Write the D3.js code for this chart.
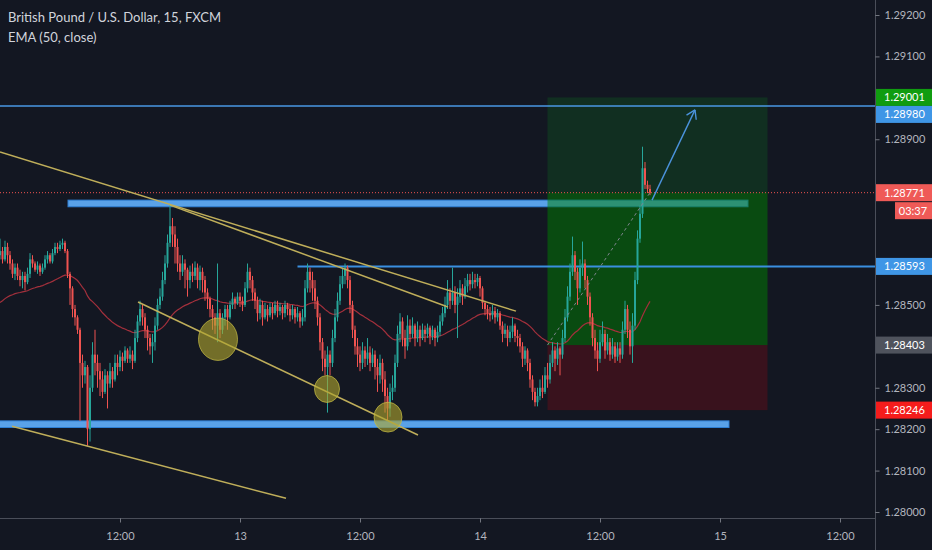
<!DOCTYPE html>
<html><head><meta charset="utf-8">
<script src="https://cdn.jsdelivr.net/npm/d3@7"></script>
<style>
html,body{margin:0;padding:0;background:#131722;}
svg{display:block;}
</style></head><body>
<svg id="c" width="932" height="550"></svg>
<script>
// ---- DATA (prices in points of 0.00001 above BASE) ----
const BASE = 1.28, UNIT = 0.00001;
const firstOpen = 620;
const closes = [630,610,640,620,600,575,590,570,560,570,
555,575,610,600,585,595,580,590,610,620,
605,625,640,635,645,650,630,575,540,490,
470,440,360,330,350,200,300,380,360,340,
320,290,330,310,340,320,360,350,375,365,
390,370,380,365,420,460,490,470,440,420,
400,410,450,500,520,560,600,650,690,670,
640,600,580,600,585,560,580,570,590,560,
580,560,530,515,490,470,450,480,440,470,
490,470,500,515,505,520,510,500,540,580,
560,530,510,480,500,470,490,475,495,480,
500,485,495,480,500,490,475,490,470,480,
460,470,540,580,560,540,510,470,410,370,
350,380,360,420,470,510,550,570,590,560,
500,440,400,380,360,390,370,385,360,380,
350,330,360,320,280,250,290,300,360,430,
460,420,400,450,430,450,420,440,420,440,
430,445,425,440,420,435,460,480,500,530,
510,530,500,520,540,520,545,560,550,560,
555,565,540,505,490,480,475,485,470,480,
450,430,440,420,435,450,425,420,400,370,
390,360,320,290,265,280,300,290,330,320,
360,390,370,395,380,420,470,520,580,620,
580,540,590,600,560,520,470,420,390,370,
410,430,390,410,380,400,375,395,380,440,
490,440,400,450,560,660,720,830,790,780,
771];
const highs = [660,640,655,650,630,610,600,600,585,580,
580,590,625,620,605,605,600,600,620,630,
625,635,650,650,655,660,655,635,580,545,
500,475,445,380,365,355,330,410,440,380,
360,340,345,340,360,350,380,380,390,385,
400,395,400,390,440,475,510,500,480,450,
430,430,470,515,540,580,620,670,740,710,
690,660,620,620,610,590,595,600,605,600,
595,590,570,540,520,500,480,600,490,480,
500,500,510,530,520,530,530,520,555,600,
590,570,540,520,515,510,505,500,505,505,
510,510,505,500,510,505,500,500,495,495,
485,490,560,600,590,580,560,520,480,420,
390,400,390,440,490,530,570,590,600,595,
570,510,450,420,400,410,400,420,400,395,
390,370,380,370,340,300,310,330,380,450,
480,470,440,475,465,470,455,460,450,455,
450,455,450,450,445,450,475,495,520,560,
540,590,545,540,560,550,565,575,575,580,
575,575,570,545,510,500,495,500,495,490,
485,460,455,450,450,470,455,440,430,410,
400,395,370,330,300,300,320,330,350,360,
380,410,400,410,400,440,490,545,600,665,
630,590,610,653,610,570,530,480,440,410,
440,460,440,430,420,420,410,410,410,460,
510,500,460,480,580,680,740,882,845,800,
790];
const lows = [610,600,605,600,585,565,560,560,545,540,
535,550,565,590,580,575,570,575,585,600,
600,600,620,625,630,635,625,565,500,470,
450,430,220,300,310,160,170,290,330,300,
280,275,285,250,300,300,315,330,340,340,
360,360,360,345,360,410,450,450,420,390,
380,360,390,440,490,510,550,590,640,640,
600,580,560,570,540,520,540,555,560,540,
535,530,510,490,470,440,430,410,420,430,
450,440,465,490,490,500,495,485,495,530,
540,510,490,460,465,450,465,460,470,465,
475,470,475,465,470,475,460,465,455,460,
445,450,460,530,530,510,490,450,390,340,
330,240,330,350,410,460,500,540,550,540,
480,420,380,350,340,345,350,355,340,350,
320,290,310,290,240,220,230,270,290,350,
410,400,370,390,410,420,400,410,400,415,
410,420,405,415,400,410,425,450,470,490,
490,500,480,420,505,500,515,530,535,540,
540,545,520,490,475,465,460,465,455,460,
440,410,420,400,410,420,410,400,385,350,
355,340,300,270,255,255,270,275,285,300,
310,350,340,355,330,370,410,460,510,570,
560,500,530,570,540,500,450,400,370,340,
360,400,370,380,365,370,360,365,360,370,
430,420,380,360,440,550,650,710,780,770,
765];
const barStart = Date.UTC(2019, 1, 12, 0, 0);
const barMinutes = 15;
const emaSeed = 1.28501;
const emaPeriod = 50;

const priceTicks = [1.292,1.291,1.290,1.289,1.288,1.287,1.286,1.285,1.284,1.283,1.282,1.281,1.280];
const timeTicks = [Date.UTC(2019,1,12,12), Date.UTC(2019,1,13), Date.UTC(2019,1,13,12), Date.UTC(2019,1,14), Date.UTC(2019,1,14,12), Date.UTC(2019,1,15), Date.UTC(2019,1,15,12)];

const currentPrice = 1.28771;
const countdown = "03:37";
const hLinePrice = 1.28980;
const hRayPrice = 1.28593, hRayStartBar = 119;
const posStartBar = 219, posEndBar = 307;
const posEntry = 1.28403, posTarget = 1.29001, posStop = 1.28246;
const zoneRects = [ {from: 27.2, to: 299.2, hi: 1.28753, lo: 1.28737},
                    {from: -4, to: 291.6, hi: 1.28220, lo: 1.28204} ];
const trendLines = [ [[0, 1.28869], [206.4, 1.28485]],
                     [[68, 1.28741], [179.2, 1.28495]],
                     [[55.2, 1.28507], [167.2, 1.28186]],
                     [[4.8, 1.28207], [114.4, 1.28033]] ];
const circles = [ {bar: 87.2, price: 1.28417, rb: 7.8, rp: 0.00051},
                  {bar: 130.8, price: 1.28297, rb: 5.0, rp: 0.000325},
                  {bar: 155.2, price: 1.28229, rb: 5.6, rp: 0.00036} ];
const arrowPts = [[260.8, 1.28753], [278, 1.28971]];
const axisTags = [
  {price: 1.29001, text: "1.29001", color: "#109c10"},
  {price: 1.28980, text: "1.28980", color: "#3f96e6"},
  {price: 1.28771, text: "1.28771", color: "#ef5a57"},
  {price: 1.28593, text: "1.28593", color: "#3f96e6"},
  {price: 1.28403, text: "1.28403", color: "#4f535d"},
  {price: 1.28246, text: "1.28246", color: "#f51c1c"}
];
const titleText = "British Pound / U.S. Dollar, 15, FXCM";
const studyText = "EMA (50, close)";

// ---- CHART ----
const W = 932, H = 550, plotR = 875, plotB = 518;
const FONT = "Lato, 'Open Sans', sans-serif";
const svg = d3.select("#c");
svg.append("rect").attr("width", W).attr("height", H).attr("fill", "#131722");

const x = d3.scaleUtc().domain([new Date(barStart), new Date(barStart + 3.5 * 864e5)]).range([0, 840]);
const y = d3.scaleLinear().domain([1.280, 1.292]).range([512, 15]);
const bx = i => x(new Date(barStart + i * barMinutes * 60000));
const P = v => BASE + v * UNIT;

const bars = closes.map((c, i) => ({
  i, o: P(i ? closes[i - 1] : firstOpen), c: P(c), h: P(highs[i]), l: P(lows[i])
}));
// EMA
const k = 2 / (emaPeriod + 1);
let prev = emaSeed;
const ema = bars.map(b => { prev = b.c * k + prev * (1 - k); return {i: b.i, v: prev}; });

svg.append("defs").append("clipPath").attr("id", "clip")
  .append("rect").attr("x", 0).attr("y", 0).attr("width", plotR).attr("height", plotB);
const g = svg.append("g").attr("clip-path", "url(#clip)");

// blue rectangles
zoneRects.forEach(r => {
  g.append("rect").attr("x", bx(r.from)).attr("y", y(r.hi))
    .attr("width", bx(r.to) - bx(r.from)).attr("height", y(r.lo) - y(r.hi))
    .attr("fill", "#5aa2e8").attr("stroke", "#2f7fd4").attr("stroke-width", 1);
});

// position tool
const px0 = bx(posStartBar), px1 = bx(posEndBar);
g.append("rect").attr("x", px0).attr("y", y(posTarget)).attr("width", px1 - px0)
  .attr("height", y(currentPrice) - y(posTarget)).attr("fill", "rgba(10,120,30,0.25)");
g.append("rect").attr("x", px0).attr("y", y(currentPrice)).attr("width", px1 - px0)
  .attr("height", y(posEntry) - y(currentPrice)).attr("fill", "rgba(0,128,0,0.5)");
g.append("rect").attr("x", px0).attr("y", y(posEntry)).attr("width", px1 - px0)
  .attr("height", y(posStop) - y(posEntry)).attr("fill", "rgba(140,10,20,0.32)");

// horizontal lines
g.append("line").attr("x1", 0).attr("x2", plotR).attr("y1", y(hLinePrice)).attr("y2", y(hLinePrice))
  .attr("stroke", "#4a98e4").attr("stroke-width", 1.5);
g.append("line").attr("x1", bx(hRayStartBar)).attr("x2", plotR).attr("y1", y(hRayPrice)).attr("y2", y(hRayPrice))
  .attr("stroke", "#3a8fe0").attr("stroke-width", 2);
g.append("line").attr("x1", 0).attr("x2", plotR).attr("y1", y(currentPrice)).attr("y2", y(currentPrice))
  .attr("stroke", "#ef5350").attr("stroke-width", 1).attr("stroke-dasharray", "1,2");

// EMA
g.append("path").datum(ema)
  .attr("d", d3.line().x(d => bx(d.i)).y(d => y(d.v)))
  .attr("fill", "none").attr("stroke", "#a3303c").attr("stroke-width", 1.2);

// candles
const up = "#26a69a", dn = "#ef5350";
const cg = g.append("g");
cg.selectAll("line.w").data(bars).join("line")
  .attr("x1", d => bx(d.i)).attr("x2", d => bx(d.i))
  .attr("y1", d => y(d.h)).attr("y2", d => y(d.l))
  .attr("stroke", d => d.c >= d.o ? up : dn).attr("stroke-width", 1);
cg.selectAll("rect.b").data(bars).join("rect")
  .attr("x", d => bx(d.i) - 1).attr("width", 2)
  .attr("y", d => y(Math.max(d.o, d.c)))
  .attr("height", d => Math.max(1, Math.abs(y(d.o) - y(d.c))))
  .attr("fill", d => d.c >= d.o ? up : dn);

// trend lines
trendLines.forEach(l => {
  g.append("line").attr("x1", bx(l[0][0])).attr("y1", y(l[0][1]))
    .attr("x2", bx(l[1][0])).attr("y2", y(l[1][1]))
    .attr("stroke", "#bfae5a").attr("stroke-width", 1.5);
});
// circles
circles.forEach(c => {
  g.append("ellipse").attr("cx", bx(c.bar)).attr("cy", y(c.price))
    .attr("rx", bx(c.bar + c.rb) - bx(c.bar)).attr("ry", y(c.price - c.rp) - y(c.price))
    .attr("fill", "rgba(175,165,45,0.62)").attr("stroke", "rgba(200,190,70,0.7)").attr("stroke-width", 1);
});

// dashed position line
g.append("line").attr("x1", px0).attr("y1", y(posEntry))
  .attr("x2", bx(bars.length - 1)).attr("y2", y(currentPrice))
  .attr("stroke", "#80858f").attr("stroke-width", 1).attr("stroke-dasharray", "3,3");

// arrow
const ax0 = bx(arrowPts[0][0]), ay0 = y(arrowPts[0][1]), ax1 = bx(arrowPts[1][0]), ay1 = y(arrowPts[1][1]);
g.append("line").attr("x1", ax0).attr("y1", ay0).attr("x2", ax1).attr("y2", ay1)
  .attr("stroke", "#4b93dc").attr("stroke-width", 1.4);
const ang = Math.atan2(ay1 - ay0, ax1 - ax0);
[Math.PI * 0.82, -Math.PI * 0.82].forEach(da => {
  g.append("line").attr("x1", ax1).attr("y1", ay1)
    .attr("x2", ax1 + 10 * Math.cos(ang + da)).attr("y2", ay1 + 10 * Math.sin(ang + da))
    .attr("stroke", "#4b93dc").attr("stroke-width", 1.4);
});

// axes
const axisColor = "#4a4e59", textColor = "#b2b5be";
svg.append("line").attr("x1", plotR + 0.5).attr("x2", plotR + 0.5).attr("y1", 0).attr("y2", H)
  .attr("stroke", axisColor);
svg.append("line").attr("x1", 0).attr("x2", plotR).attr("y1", plotB + 0.5).attr("y2", plotB + 0.5)
  .attr("stroke", axisColor);

// tag layout (collision resolution) computed first so tick labels hidden under tags are dropped
const tagH = 17;
const tags = axisTags.map(t => ({...t, cy: y(t.price)})).sort((a, b) => a.cy - b.cy);
for (let i = 1; i < tags.length; i++) {
  if (tags[i].cy - tags[i - 1].cy < tagH) tags[i].cy = tags[i - 1].cy + tagH;
}
const occupied = [];
tags.forEach(t => {
  occupied.push([t.cy - tagH / 2, t.cy + tagH / 2]);
  if (t.price === currentPrice) occupied.push([t.cy + tagH / 2 + 1, t.cy + tagH * 1.5 + 1]);
});
const visibleTicks = priceTicks.filter(p => {
  const ty = y(p);
  return !occupied.some(([a, b]) => ty + 4.5 > a && ty - 4.5 < b);
});

const ya = svg.append("g").attr("transform", `translate(${plotR + 0.5},0)`)
  .call(d3.axisRight(y).tickValues(visibleTicks).tickFormat(d3.format(".5f")).tickSize(4).tickPadding(5).tickSizeOuter(0));
ya.select(".domain").remove();
ya.selectAll("line").attr("stroke", textColor).attr("stroke-opacity", 0.6);
ya.selectAll("text").attr("fill", textColor).style("font", `11px ${FONT}`);

const xa = svg.append("g").attr("transform", `translate(0,${plotB + 0.5})`)
  .call(d3.axisBottom(x).tickValues(timeTicks.map(t => new Date(t)))
    .tickFormat(d => d.getUTCHours() === 0 ? String(d.getUTCDate()) : d3.utcFormat("%H:%M")(d))
    .tickSize(4).tickPadding(10).tickSizeOuter(0));
xa.select(".domain").remove();
xa.selectAll("line").attr("stroke", textColor).attr("stroke-opacity", 0.6);
xa.selectAll("text").attr("fill", textColor).style("font", `11px ${FONT}`);

const tg = svg.append("g");
tags.forEach(t => {
  tg.append("rect").attr("x", plotR + 1).attr("y", t.cy - tagH / 2).attr("width", W - plotR - 1).attr("height", tagH)
    .attr("fill", t.color);
  tg.append("text").attr("x", plotR + 9).attr("y", t.cy).attr("dy", "0.35em")
    .attr("fill", "#ffffff").style("font", `11px ${FONT}`).text(t.text);
  if (t.price === currentPrice) {
    tg.append("rect").attr("x", 895).attr("y", t.cy + tagH / 2 + 1).attr("width", W - 895).attr("height", tagH)
      .attr("fill", t.color);
    tg.append("text").attr("x", 913).attr("y", t.cy + tagH + 1).attr("dy", "0.35em").attr("text-anchor", "middle")
      .attr("fill", "#ffffff").style("font", `11px ${FONT}`).text(countdown);
  }
});

// title
svg.append("text").attr("x", 8).attr("y", 22).attr("fill", "#d1d4dc")
  .style("font", `13px ${FONT}`).text(titleText);
svg.append("text").attr("x", 8).attr("y", 42).attr("fill", "#d1d4dc")
  .style("font", `13px ${FONT}`).text(studyText);
</script>
</body></html>
